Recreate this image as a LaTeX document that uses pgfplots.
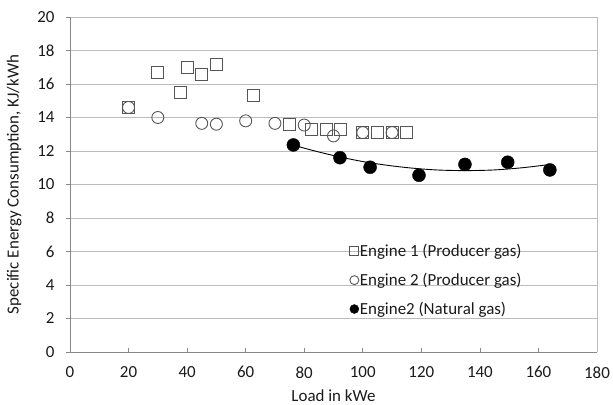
\documentclass[border=0pt]{standalone}
\usepackage{pgfplots}
\pgfplotsset{compat=1.18}
\usepackage{fontspec}
\setmainfont{Carlito}
\definecolor{gridc}{HTML}{BBBBBB}
\definecolor{axc}{HTML}{888888}
\definecolor{markc}{HTML}{555555}
\definecolor{txtc}{HTML}{1A1A1A}
\begin{document}
\begin{tikzpicture}
\begin{axis}[
  scale only axis,
  width=527bp, height=335bp,
  xmin=0, xmax=180, ymin=0, ymax=20,
  xtick={0,20,...,180}, ytick={0,2,...,20},
  /pgf/number format/assume math mode=true,
  tick label style={font=\fontsize{17}{19}\selectfont, text=txtc},
  xticklabel style={yshift=-11bp},
  yticklabel style={xshift=-8bp},
  xlabel={Load in kWe},
  ylabel={Specific Energy Consumption, KJ/kWh},
  every axis x label/.style={at={(axis description cs:0.5,0)}, anchor=base, yshift=-49bp,
    inner sep=1bp, font=\fontsize{17}{19}\selectfont, text=txtc},
  every axis y label/.style={at={(axis description cs:-0.106,0.5)}, rotate=90, anchor=center,
    font=\fontsize{17}{19}\selectfont, text=txtc},
  ymajorgrids, grid style={gridc, line width=0.8bp},
  x tick style={axc, line width=0.6bp},
  y tick style={axc, line width=0.6bp},
  xtick align=inside, ytick align=outside,
  major tick length=4bp,
  xtick pos=bottom, ytick pos=left,
  separate axis lines,
  x axis line style={draw=axc},
  y axis line style={draw=axc},
  axis x line*=bottom, axis y line*=left,
  clip=false,
  legend style={draw=none, fill=none, at={(axis cs:94.5,6.62)}, anchor=north west,
    font=\fontsize{17}{19}\selectfont, text=txtc, row sep=13bp,
    nodes={inner sep=1bp}},
  legend cell align=left,
  legend image code/.code={\draw[#1, mark size=4.5bp] plot coordinates {(0.12cm,0cm)};},
]
% right border
\draw[gridc, line width=0.8bp] (rel axis cs:1,0) -- (rel axis cs:1,1);
\addplot[only marks, mark=square, mark size=6bp, draw=markc, line width=0.9bp] coordinates {
(20,14.6) (30,16.7) (37.8,15.5) (40,17.0) (45,16.55) (50,17.15) (62.5,15.3)
(75,13.6) (82.5,13.3) (87.5,13.3) (92.5,13.3) (100,13.1) (105,13.1) (110,13.1) (115,13.1)};
\addlegendentry{Engine 1 (Producer gas)}
\addplot[only marks, mark=o, mark size=6bp, draw=markc, line width=0.9bp] coordinates {
(20,14.6) (30,14.0) (45,13.65) (50,13.6) (60,13.8) (70,13.65) (80,13.55) (90,12.9) (100,13.1) (110,13.1)};
\addlegendentry{Engine 2 (Producer gas)}
\addplot[only marks, mark=*, mark size=6.5bp, draw=black, fill=black] coordinates {
(76.3,12.36) (92.2,11.6) (102.5,11.03) (119.2,10.55) (134.9,11.2) (149.5,11.33) (163.9,10.87)};
\addlegendentry{Engine2 (Natural gas)}
\addplot[smooth, black, line width=0.9bp, forget plot] coordinates {
(76,12.38) (80,12.17) (85,11.94) (90,11.73) (95,11.54) (100,11.37) (105,11.23) (110,11.11)
(115,11.01) (120,10.93) (125,10.87) (130,10.84) (135,10.83) (140,10.84) (145,10.87)
(150,10.93) (155,11.01) (160,11.11) (164,11.20)};
\end{axis}
\pgfresetboundingbox
\path (current axis.south west) ++(-70bp,-53bp) coordinate (bl);
\path (current axis.north east) ++(16bp,17bp) coordinate (tr);
\path (bl) rectangle (tr);
\end{tikzpicture}
\end{document}
